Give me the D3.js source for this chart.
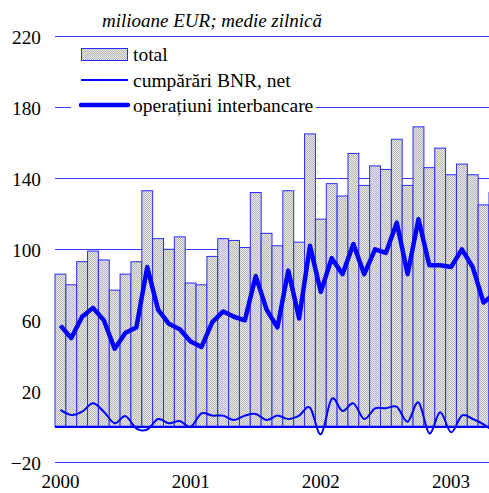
<!DOCTYPE html>
<html>
<head>
<meta charset="utf-8">
<script src="https://cdn.jsdelivr.net/npm/d3@7"></script>
</head>
<body style="margin:0; background:#fff">
<svg id="chart" width="489" height="493"></svg>
<script>
//Data (monthly, Jan 2000 onwards).
var years = ["2000", "2001", "2002", "2003"];
var months = [];
years.forEach(function(y){
	for(var m = 1; m <= 12; m++){ months.push(y + "-" + (m < 10 ? "0" + m : m)); }
});

var total = [86, 80, 93, 99, 94, 77, 86, 93, 133, 106, 100, 107,
			81, 80, 96, 106, 105, 101, 132, 109, 102, 133, 104, 165,
			117, 137, 130, 154, 136, 147, 145, 162, 136, 169, 146, 157,
			142, 148, 142, 125, 132];

var bnrNet = [9.5, 6.6, 8.5, 13.2, 8.5, 2, 6, -1, -1.5, 4.4, 2, 3.3,
			0, 7.6, 6.3, 6.3, 3.8, 6.3, 7.2, 3.8, 6.3, 4.4, 6.3, 10.8,
			-4.2, 15.7, 8.9, 13.2, 4.4, 10.4, 10.4, 11.3, 2.9, 13.8, -3.7, 8.2,
			-3.1, 6.3, 4.4, 1.4, -3];

var interbank = [57, 50, 62, 67, 60, 44, 53, 56, 90, 66, 58, 55,
				48, 45, 59, 65, 62, 60, 85, 66, 56, 88, 61, 102,
				76, 95, 86, 103, 86, 100, 98, 115, 86, 117, 91, 91,
				90, 100, 90, 70, 75];

var yTicks = [-20, 20, 60, 100, 140, 180, 220];
var legendLabels = ["total", "cumpărări BNR, net", "operațiuni interbancare"];
var title = "milioane EUR; medie zilnică";

var n = total.length;
var months41 = months.slice(0, n);
var blue = "#0000ff";

var svg = d3.select("#chart");

//Serif text helper.
function serif(sel, size){
	sel.style("font-family", "'Liberation Serif'")
		.style("font-size", (size || 19) + "px")
		.style("fill", "#000");
}

//Scales.
var slot = 10.85;
var x = d3.scaleBand()
	.domain(months41)
	.range([55, 55 + n * slot])
	.padding(0);

var y = d3.scaleLinear()
	.domain([-20, 220])
	.range([462.3, 36.3]);

//Stipple fill for bars.
var pat = svg.append("defs")
	.append("pattern")
	.attr("id", "dots")
	.attr("patternUnits", "userSpaceOnUse")
	.attr("width", 2)
	.attr("height", 2);
pat.append("rect").attr("width", 2).attr("height", 2).attr("fill", "#ececec");
pat.append("rect").attr("width", 1).attr("height", 1).attr("fill", "#b4b4b4");
pat.append("rect").attr("x", 1).attr("y", 1).attr("width", 1).attr("height", 1).attr("fill", "#b4b4b4");

//Gridlines.
svg.append("g")
	.selectAll("line")
	.data(yTicks)
	.enter()
	.append("line")
	.attr("x1", 55)
	.attr("x2", 489)
	.attr("y1", function(d){ return Math.round(y(d)) + 0.5; })
	.attr("y2", function(d){ return Math.round(y(d)) + 0.5; })
	.attr("stroke", "#3a3aff")
	.attr("stroke-width", 1);

//Y axis labels.
var yAxis = svg.append("g")
	.attr("transform", "translate(55,0)")
	.call(d3.axisLeft(y).tickValues(yTicks).tickSize(0).tickPadding(14).tickFormat(d3.format("d")));
yAxis.select(".domain").remove();
yAxis.selectAll("text")
	.attr("dy", "0.38em")
	.call(serif, 19.3);

//Bars.
svg.append("g")
	.selectAll("rect")
	.data(total)
	.enter()
	.append("rect")
	.attr("x", function(d, i){ return x(months41[i]); })
	.attr("y", function(d){ return y(d); })
	.attr("width", x.bandwidth())
	.attr("height", function(d){ return y(0) - y(d); })
	.attr("fill", "url(#dots)")
	.attr("stroke", "#2a2aff")
	.attr("stroke-width", 1);

//Zero line.
svg.append("line")
	.attr("x1", 55)
	.attr("x2", 489)
	.attr("y1", y(0))
	.attr("y2", y(0))
	.attr("stroke", blue)
	.attr("stroke-width", 2.2);

var cx = function(d, i){ return x(months41[i]) + x.bandwidth() / 2; };

//Thin smoothed line.
svg.append("path")
	.datum(bnrNet)
	.attr("fill", "none")
	.attr("stroke", blue)
	.attr("stroke-width", 2)
	.attr("d", d3.line().x(cx).y(function(d){ return y(d); }).curve(d3.curveCardinal.tension(0)));

//Thick line.
svg.append("path")
	.datum(interbank)
	.attr("fill", "none")
	.attr("stroke", blue)
	.attr("stroke-width", 4.5)
	.attr("stroke-linejoin", "round")
	.attr("d", d3.line().x(cx).y(function(d){ return y(d); }));

//Year labels.
svg.append("g")
	.selectAll("text")
	.data(years)
	.enter()
	.append("text")
	.attr("x", function(d, i){ return x(months41[i * 12]) + x.bandwidth() / 2; })
	.attr("y", 488)
	.attr("text-anchor", "middle")
	.call(serif, 19)
	.text(function(d){ return d; });

//Title.
svg.append("text")
	.attr("x", 102)
	.attr("y", 27)
	.call(serif, 19)
	.style("font-style", "italic")
	.text(title);

//Legend.
var legend = svg.append("g");
legend.append("rect")
	.attr("x", 71)
	.attr("y", 40)
	.attr("width", 245)
	.attr("height", 78)
	.attr("fill", "#fff");

legend.append("rect")
	.attr("x", 81.5)
	.attr("y", 48.5)
	.attr("width", 46)
	.attr("height", 12)
	.attr("fill", "url(#dots)")
	.attr("stroke", "#2a2aff")
	.attr("stroke-width", 1);

legend.append("line")
	.attr("x1", 81).attr("x2", 128)
	.attr("y1", 80).attr("y2", 80)
	.attr("stroke", blue).attr("stroke-width", 2);

legend.append("line")
	.attr("x1", 81).attr("x2", 128)
	.attr("y1", 105).attr("y2", 105)
	.attr("stroke", blue).attr("stroke-width", 4.5)
	.attr("stroke-linecap", "round");

legend.selectAll("text")
	.data(legendLabels)
	.enter()
	.append("text")
	.attr("x", 133)
	.attr("y", function(d, i){ return [61, 87, 111.5][i]; })
	.call(serif, 19.5)
	.text(function(d){ return d; });
</script>
</body>
</html>
